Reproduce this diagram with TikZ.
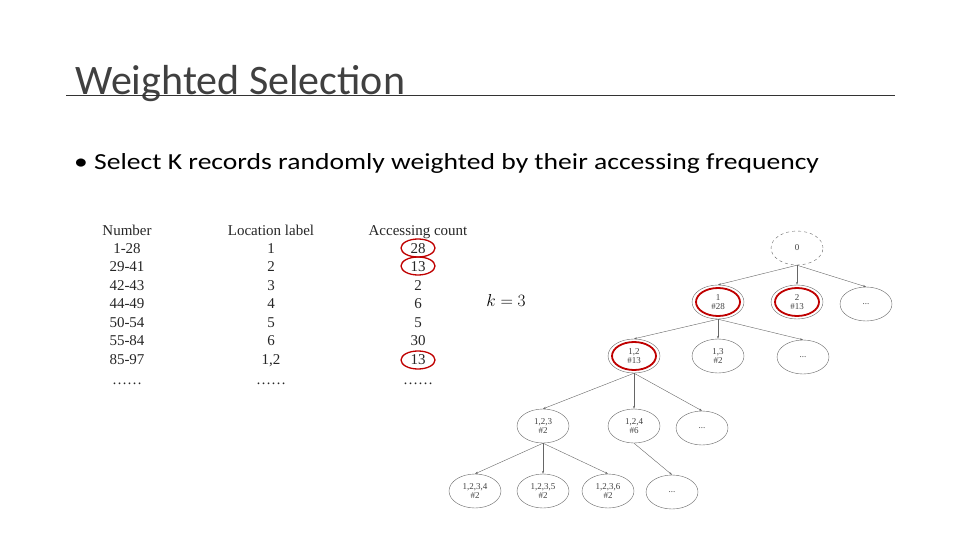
\documentclass[tikz,border=0pt]{standalone}
\usepackage{fontspec}
\setmainfont{Carlito}
\newfontfamily\tnr{Liberation Serif}
\usetikzlibrary{shapes.geometric,arrows.meta}
\newcommand\mydots{\ldots\ldots}
\begin{document}
\begin{tikzpicture}[x=1pt,y=-1pt,
  tn/.style={ellipse,draw=black!60,thin,minimum width=52pt,minimum height=34pt,inner sep=0pt,align=center,font=\tnr\fontsize{9}{9}\selectfont,text=black!75},
  ed/.style={draw=black!60,thin,-{Stealth[length=3pt,width=2pt]}},
  redc/.style={draw=red!75!black,line width=1.8pt},
  tb/.style={font=\tnr\fontsize{15}{15}\selectfont,text=black!85,anchor=base}]
\useasboundingbox (0,0) rectangle (960,540);
\node[anchor=base west,font=\fontsize{42}{42}\selectfont,text=black!75,inner sep=0pt] (title) at (75,95) {Weighted Selection};
\draw[black!80,thin] (66,95.5) -- (895,95.5);
\node[anchor=base west,font=\fontsize{23}{23}\selectfont,inner sep=0pt,xscale=1.2] (bul) at (74,170) {• Select K records randomly weighted by their accessing frequency};
% table
\foreach \a/\b/\c/\y [count=\i] in {Number/Location label/Accessing count/235, 1-28/1/28/253, 29-41/2/13/271, 42-43/3/2/290, 44-49/4/6/308, 50-54/5/5/327, 55-84/6/30/345, 85-97/1{,}2/13/364, \mydots/\mydots/\mydots/384}{
  \node[tb] (n\i) at (127,\y) {\a};
  \node[tb] (l\i) at (271,\y) {\b};
  \node[tb] (c\i) at (418,\y) {\c};
}
\draw[redc,line width=1.3pt] (418,248) ellipse (17 and 9);
\draw[redc,line width=1.3pt] (418,266) ellipse (17 and 9);
\draw[redc,line width=1.3pt] (418,360) ellipse (17 and 9);
\node[font=\fontsize{18}{18}\selectfont] (k) at (506,300) {$k=3$};
% tree
\node[tn,dashed] (r) at (797,248) {0};
\node[tn] (a1) at (718,302) {1\\\#28};
\node[tn] (a2) at (797,302) {2\\\#13};
\node[tn] (a3) at (866,304) {...};
\node[tn] (b1) at (634,356) {1,2\\\#13};
\node[tn] (b2) at (718,356) {1,3\\\#2};
\node[tn] (b3) at (803,357) {...};
\node[tn] (c1) at (543,426) {1,2,3\\\#2};
\node[tn] (c2) at (634,426) {1,2,4\\\#6};
\node[tn] (c3) at (702,428) {...};
\node[tn] (d1) at (475,491) {1,2,3,4\\\#2};
\node[tn] (d2) at (543,491) {1,2,3,5\\\#2};
\node[tn] (d3) at (608,491) {1,2,3,6\\\#2};
\node[tn] (d4) at (672,492) {...};
\foreach \p/\c in {r/a1,r/a2,r/a3,a1/b1,a1/b2,a1/b3,b1/c1,b1/c2,b1/c3,c1/d1,c1/d2,c1/d3,c2/d4}
  \draw[ed] (\p.south) -- (\c.north);
\draw[redc] (a1) ellipse (22 and 14);
\draw[redc] (a2) ellipse (22 and 14);
\draw[redc] (b1) ellipse (22 and 14);
\end{tikzpicture}
\end{document}
